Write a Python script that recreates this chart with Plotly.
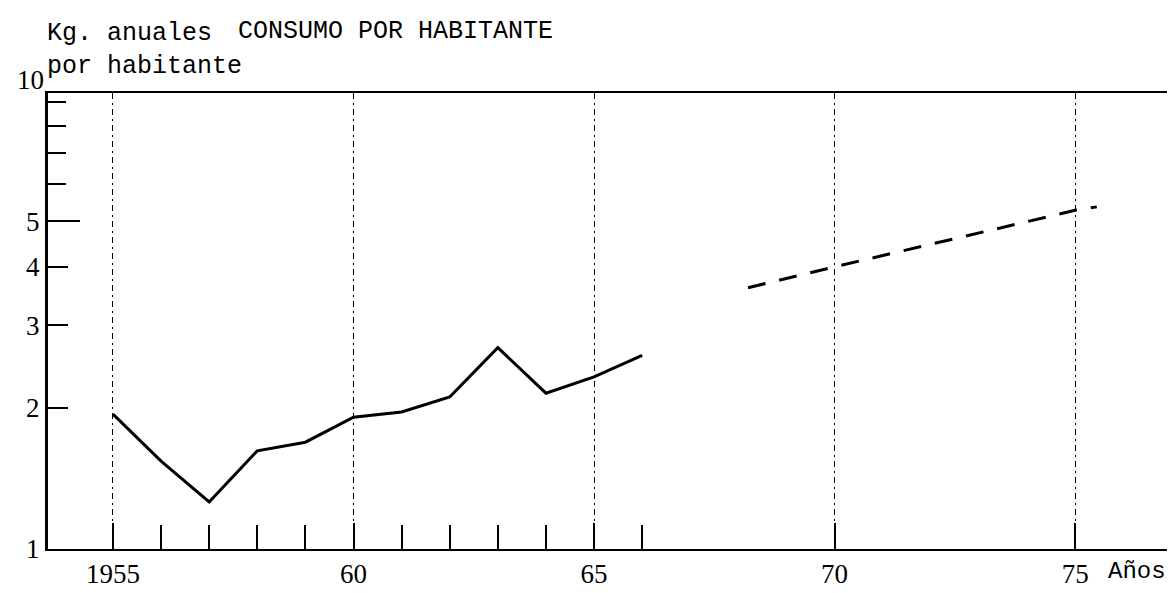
import math
import plotly.graph_objects as go

# Observed consumption per inhabitant (kg/year)
years = [1955, 1956, 1957, 1958, 1959, 1960, 1961, 1962, 1963, 1964, 1965, 1966]
consumo = [1.94, 1.54, 1.26, 1.62, 1.69, 1.91, 1.96, 2.11, 2.69, 2.15, 2.33, 2.59]

# Projection (dashed)
proj_years = [1968.2, 1970, 1975, 1975.45]
proj_vals = [3.61, 4.0, 5.28, 5.37]

x_major = [1955, 1960, 1965, 1970, 1975]
x_major_text = ["1955", "60", "65", "70", "75"]
x_minor = [1956, 1957, 1958, 1959, 1961, 1962, 1963, 1964, 1966]

y_major = [1, 2, 3, 4, 5]
y_major_text = ["1", "2", "3", "4", "5"]
y_minor = [6, 7, 8, 9]
y_long_tick = [5]
y_top_label = 10

TYPE = "Liberation Mono"
DIGIT = "Liberation Serif"
Y_RANGE = [0, 0.973]

fig = go.Figure()
fig.add_trace(go.Scatter(x=years, y=consumo, mode="lines",
                         line=dict(color="black", width=3), showlegend=False))
fig.add_trace(go.Scatter(x=proj_years, y=proj_vals, mode="lines",
                         line=dict(color="black", width=3, dash="18px,14px"),
                         showlegend=False))
# empty trace so the overlay axis (longer tick at 5) gets drawn
fig.add_trace(go.Scatter(x=[], y=[], yaxis="y2", mode="lines",
                         showlegend=False, hoverinfo="skip"))

fig.update_layout(
    width=1175, height=593,
    margin=dict(l=40, r=13, t=85, b=41),
    paper_bgcolor="white", plot_bgcolor="white",
    showlegend=False,
    font=dict(family=DIGIT, color="black", size=27),
    xaxis=dict(
        range=[1953.65, 1976.93],
        tickmode="array", tickvals=x_major, ticktext=x_major_text,
        ticks="inside", ticklen=26, tickwidth=2, tickcolor="black",
        tickfont=dict(family=DIGIT, size=27, color="black"),
        showgrid=True, gridcolor="black", gridwidth=1, griddash="6px,4px,2px,4px",
        minor=dict(tickmode="array", tickvals=x_minor, ticks="inside",
                   ticklen=24, tickwidth=2, tickcolor="black", showgrid=False),
        showline=True, linecolor="black", linewidth=2, mirror=True,
        zeroline=False,
    ),
    yaxis=dict(
        type="log", range=Y_RANGE,
        tickmode="array", tickvals=y_major, ticktext=y_major_text,
        ticks="inside", ticklen=20, tickwidth=2, tickcolor="black",
        tickfont=dict(family=DIGIT, size=27, color="black"),
        showgrid=False,
        minor=dict(tickmode="array", tickvals=y_minor, ticks="inside",
                   ticklen=18, tickwidth=2, tickcolor="black", showgrid=False),
        showline=True, linecolor="black", linewidth=3, mirror=True,
        zeroline=False,
    ),
    yaxis2=dict(
        type="log", range=Y_RANGE, overlaying="y", side="left",
        tickmode="array", tickvals=y_long_tick, ticks="inside", ticklen=32,
        tickwidth=2, tickcolor="black", showticklabels=False,
        showgrid=False, showline=False, zeroline=False,
    ),
)

# "10" label sits just above the frame corner (top of the hand-drawn scale)
fig.add_annotation(text=str(y_top_label), xref="paper", yref="paper",
                   x=-0.002, y=math.log10(y_top_label) / Y_RANGE[1],
                   xanchor="right", yanchor="middle",
                   showarrow=False, font=dict(family=DIGIT, size=27, color="black"))
fig.add_annotation(text="CONSUMO POR HABITANTE", xref="paper", yref="paper",
                   x=0.31, y=1.135, xanchor="center", yanchor="middle",
                   showarrow=False, font=dict(family=TYPE, size=25, color="black"))
fig.add_annotation(text="Kg. anuales<br>por habitante", xref="paper", yref="paper",
                   x=-0.003, y=1.094, xanchor="left", yanchor="middle", align="left",
                   showarrow=False, font=dict(family=TYPE, size=25, color="black"))
fig.add_annotation(text="Años", xref="paper", yref="paper",
                   x=1.0, y=-0.05, xanchor="right", yanchor="middle",
                   showarrow=False, font=dict(family=TYPE, size=24, color="black"))

fig.write_html("out.html")
